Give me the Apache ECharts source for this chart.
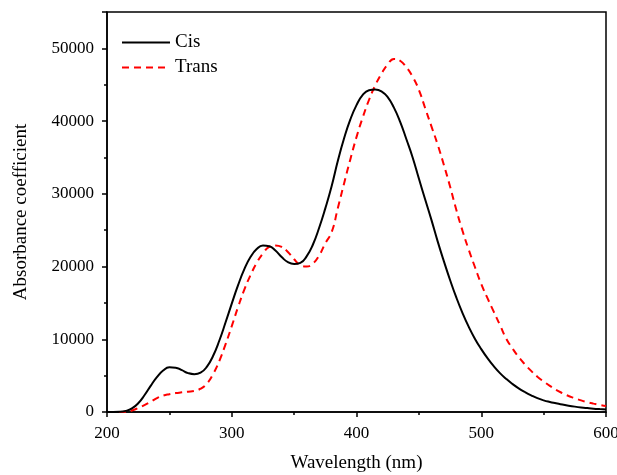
<!DOCTYPE html>
<html><head><meta charset="utf-8">
<script src="https://cdn.jsdelivr.net/npm/echarts@6/dist/echarts.min.js"></script>
<style>html,body{margin:0;padding:0;background:#fff}#c{width:617px;height:475px}</style>
</head><body><div id="c"></div>
<script>
const wavelengths = [200,205,210,215,220,225,230,235,240,245,250,255,260,265,270,275,280,285,290,295,300,305,310,315,320,325,330,335,340,345,350,355,360,365,370,375,380,385,390,395,400,405,410,415,420,425,430,435,440,445,450,455,460,465,470,475,480,485,490,495,500,505,510,515,520,525,530,535,540,545,550,555,560,565,570,575,580,585,590,595,600];
const cis = [0,0,20,150,500,1200,2300,3600,4800,5700,6150,6100,5750,5350,5200,5400,6200,7700,9800,12300,14900,17400,19600,21300,22400,22900,22800,22200,21300,20600,20350,20500,21400,23000,25300,28000,31000,34500,37600,40200,42200,43600,44250,44350,44100,43300,41850,39900,37500,35000,32100,29250,26450,23500,20750,18150,15750,13600,11700,10050,8650,7400,6300,5350,4550,3850,3250,2750,2300,1900,1600,1380,1200,1020,870,740,630,540,460,400,350];
const trans = [0,0,0,50,200,550,950,1400,1900,2250,2450,2600,2700,2800,2900,3200,3900,5200,7000,9300,11800,14400,16800,18800,20500,21800,22700,22900,22700,22000,21000,20200,20000,20400,21500,23200,24700,28000,31400,34700,37800,40500,42900,44900,46500,47800,48550,48300,47400,46100,44300,41800,39300,36800,34000,31000,27800,24900,22300,19900,17600,15650,13800,11950,10100,8750,7550,6550,5650,4850,4200,3600,3050,2600,2200,1900,1600,1350,1150,980,830];
const seriesNames = ['Cis','Trans'];
const xTicks = [200,300,400,500,600];
const yTicks = [0,10000,20000,30000,40000,50000];

const font = 'Liberation Serif';
const chart = echarts.init(document.getElementById('c'));
const pair = (ys) => wavelengths.map((w,i)=>[w, ys[i]]);
chart.setOption({
  animation:false,
  backgroundColor:'#fff',
  grid:{left:107,right:11,top:12,bottom:63,containLabel:false,outerBoundsMode:'none',
    show:true,borderColor:'#000',borderWidth:1.5,backgroundColor:'transparent'},
  legend:{
    orient:'vertical', left:116, top:28, itemWidth:48, itemHeight:14, itemGap:6,
    itemStyle:{opacity:0},
    textStyle:{fontFamily:font,fontSize:19,color:'#000'},
    data:seriesNames
  },
  xAxis:{
    type:'value', min:xTicks[0], max:xTicks[xTicks.length-1], interval:100,
    name:'Wavelength (nm)', nameLocation:'middle', nameGap:42,
    nameTextStyle:{fontFamily:font,fontSize:19,color:'#000'},
    axisLine:{lineStyle:{color:'#000',width:1.5}},
    axisTick:{inside:false,length:5,lineStyle:{width:1.5}},
    minorTick:{show:true,splitNumber:2,length:3,lineStyle:{color:'#000',width:1.5}},
    splitLine:{show:false},
    axisLabel:{fontFamily:font,fontSize:17,color:'#000',margin:13}
  },
  yAxis:{
    type:'value', min:0, max:55000, interval:10000,
    name:'Absorbance coefficient', nameLocation:'middle', nameGap:76,
    nameTextStyle:{fontFamily:font,fontSize:19,color:'#000'},
    axisLine:{lineStyle:{color:'#000',width:1.5}},
    axisTick:{inside:false,length:5,lineStyle:{width:1.5}},
    minorTick:{show:true,splitNumber:2,length:3,lineStyle:{color:'#000',width:1.5}},
    splitLine:{show:false},
    axisLabel:{fontFamily:font,fontSize:17,color:'#000',margin:13,
      formatter:(v)=> yTicks.indexOf(v)>=0 ? String(v) : ''}
  },
  series:[
    {name:seriesNames[0],type:'line',data:pair(cis),smooth:true,showSymbol:false,symbol:'none',
      lineStyle:{color:'#000',width:2},itemStyle:{color:'#000'},z:3},
    {name:seriesNames[1],type:'line',data:pair(trans),smooth:true,showSymbol:false,symbol:'none',
      lineStyle:{color:'#ff0000',width:2,type:[7,5]},itemStyle:{color:'#ff0000'},z:2}
  ]
});
</script></body></html>
